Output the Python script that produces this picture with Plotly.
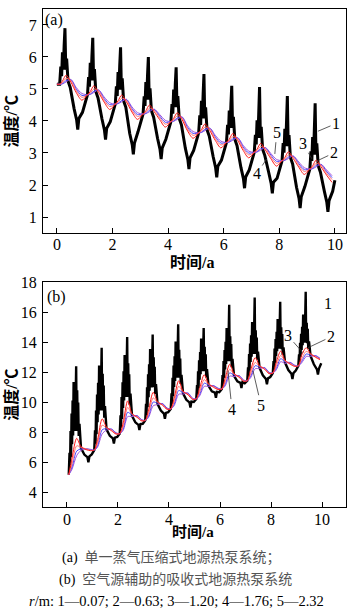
import plotly.graph_objects as go

W, H = 350, 610
YEARS = list(range(10))

# ---------------- panel (a) data ----------------
PH_A_SMOOTH = [0.10, 0.20, 0.33, 0.50, 0.70, 0.90]
PH_A_BLACK = [0.10, 0.14, 0.17, 0.20, 0.23, 0.26, 0.29, 0.32, 0.35, 0.40, 0.48, 0.62, 0.71, 0.75, 0.79, 0.92]
A_START = 5.15
A_BLACK_END = 2.15

A_R1 = [
    [5.15, 5.70, 5.40, 6.15, 5.60, 6.35, 6.90, 5.60, 5.95, 5.25, 5.05, 4.38, 4.03, 3.73, 4.08, 4.27],
    [4.82, 5.37, 5.07, 5.82, 5.27, 6.02, 6.60, 5.27, 5.62, 4.92, 4.72, 4.07, 3.72, 3.42, 3.77, 3.98],
    [4.53, 5.08, 4.78, 5.53, 4.98, 5.73, 6.30, 4.98, 5.33, 4.63, 4.43, 3.61, 3.26, 2.96, 3.31, 3.67],
    [4.22, 4.77, 4.47, 5.22, 4.67, 5.42, 6.00, 4.67, 5.02, 4.32, 4.12, 3.46, 3.11, 2.81, 3.16, 3.43],
    [3.98, 4.53, 4.23, 4.98, 4.43, 5.18, 5.68, 4.43, 4.78, 4.08, 3.88, 3.15, 2.80, 2.50, 2.85, 3.08],
    [3.63, 4.18, 3.88, 4.63, 4.08, 4.83, 5.47, 4.08, 4.43, 3.73, 3.53, 2.89, 2.54, 2.24, 2.59, 2.78],
    [3.33, 3.88, 3.58, 4.33, 3.78, 4.53, 5.10, 3.78, 4.13, 3.43, 3.23, 2.55, 2.20, 1.90, 2.25, 2.47],
    [3.02, 3.57, 3.27, 4.02, 3.47, 4.22, 5.06, 3.47, 3.82, 3.12, 2.92, 2.39, 2.04, 1.74, 2.09, 2.21],
    [2.76, 3.31, 3.01, 3.76, 3.21, 3.96, 4.78, 3.21, 3.56, 2.86, 2.66, 1.93, 1.58, 1.28, 1.63, 1.95],
    [2.50, 3.05, 2.75, 3.50, 2.95, 3.70, 4.55, 2.95, 3.30, 2.60, 2.40, 1.81, 1.46, 1.16, 1.51, 1.80],
]
A_R2 = [
    [5.15, 5.25, 5.43, 5.22, 4.88, 4.65],
    [4.82, 4.92, 5.10, 4.89, 4.59, 4.36],
    [4.53, 4.63, 4.81, 4.60, 4.28, 4.05],
    [4.22, 4.32, 4.50, 4.29, 4.04, 3.81],
    [3.98, 4.08, 4.26, 4.05, 3.69, 3.46],
    [3.63, 3.73, 3.91, 3.70, 3.39, 3.16],
    [3.33, 3.43, 3.61, 3.40, 3.08, 2.85],
    [3.02, 3.12, 3.30, 3.09, 2.82, 2.59],
    [2.76, 2.86, 3.04, 2.83, 2.56, 2.33],
    [2.50, 2.60, 2.78, 2.57, 2.31, 2.08],
]
A_R3 = [
    [5.15, 5.20, 5.33, 5.27, 4.94, 4.74],
    [4.82, 4.87, 5.00, 4.94, 4.65, 4.45],
    [4.53, 4.58, 4.71, 4.65, 4.34, 4.14],
    [4.22, 4.27, 4.40, 4.34, 4.10, 3.90],
    [3.98, 4.03, 4.16, 4.10, 3.75, 3.55],
    [3.63, 3.68, 3.81, 3.75, 3.45, 3.25],
    [3.33, 3.38, 3.51, 3.45, 3.14, 2.94],
    [3.02, 3.07, 3.20, 3.14, 2.88, 2.68],
    [2.76, 2.81, 2.94, 2.88, 2.62, 2.42],
    [2.50, 2.55, 2.68, 2.62, 2.37, 2.17],
]
A_R4 = [
    [5.15, 5.17, 5.26, 5.29, 4.99, 4.80],
    [4.82, 4.84, 4.93, 4.96, 4.70, 4.51],
    [4.53, 4.55, 4.64, 4.67, 4.39, 4.20],
    [4.22, 4.24, 4.33, 4.36, 4.15, 3.96],
    [3.98, 4.00, 4.09, 4.12, 3.80, 3.61],
    [3.63, 3.65, 3.74, 3.77, 3.50, 3.31],
    [3.33, 3.35, 3.44, 3.47, 3.19, 3.00],
    [3.02, 3.04, 3.13, 3.16, 2.93, 2.74],
    [2.76, 2.78, 2.87, 2.90, 2.67, 2.48],
    [2.50, 2.52, 2.61, 2.64, 2.42, 2.23],
]
A_R5 = [
    [5.15, 5.16, 5.22, 5.30, 5.04, 4.86],
    [4.82, 4.83, 4.89, 4.97, 4.75, 4.57],
    [4.53, 4.54, 4.60, 4.68, 4.44, 4.26],
    [4.22, 4.23, 4.29, 4.37, 4.20, 4.02],
    [3.98, 3.99, 4.05, 4.13, 3.85, 3.67],
    [3.63, 3.64, 3.70, 3.78, 3.55, 3.37],
    [3.33, 3.34, 3.40, 3.48, 3.24, 3.06],
    [3.02, 3.03, 3.09, 3.17, 2.98, 2.80],
    [2.76, 2.77, 2.83, 2.91, 2.72, 2.54],
    [2.50, 2.51, 2.57, 2.65, 2.47, 2.29],
]

# ---------------- panel (b) data ----------------
PH_B_SMOOTH = [0.07, 0.20, 0.38, 0.55, 0.75, 0.92]
PH_B_BLACK = [0.07, 0.10, 0.12, 0.14, 0.16, 0.18, 0.20, 0.22, 0.24, 0.26, 0.28, 0.30, 0.32, 0.34,
              0.36, 0.38, 0.40, 0.42, 0.44, 0.46, 0.49, 0.55, 0.68, 0.80, 0.84, 0.88, 0.97]

B_R1 = [
    [5.17, 6.63, 5.64, 8.09, 6.34, 9.25, 7.21, 10.13, 7.79, 11.35, 8.09, 11.00, 8.09, 11.10,
     12.40, 8.09, 10.80, 8.37, 9.99, 7.76, 8.57, 6.95, 6.52, 6.35, 6.00, 6.40, 6.53],
    [6.82, 8.14, 7.24, 9.46, 7.88, 10.52, 8.67, 11.31, 9.20, 12.45, 9.46, 12.10, 9.46, 12.20,
     13.64, 9.46, 11.90, 9.57, 11.13, 8.98, 9.76, 8.20, 7.77, 7.60, 7.25, 7.65, 7.69],
    [7.92, 9.14, 8.31, 10.36, 8.90, 11.34, 9.63, 12.07, 10.12, 13.15, 10.36, 12.80, 10.36, 12.90,
     14.35, 10.36, 12.60, 10.40, 11.88, 9.84, 10.58, 9.10, 8.67, 8.50, 8.15, 8.55, 8.57],
    [8.80, 9.90, 9.15, 11.00, 9.68, 11.88, 10.34, 12.54, 10.78, 13.55, 11.00, 13.20, 11.00, 13.30,
     14.52, 11.00, 13.00, 11.06, 12.38, 10.56, 11.22, 9.90, 9.45, 9.25, 8.90, 9.30, 9.34],
    [9.57, 10.60, 9.90, 11.64, 10.40, 12.46, 11.02, 13.08, 11.43, 14.05, 11.64, 13.70, 11.64, 13.80,
     15.20, 11.64, 13.50, 11.69, 12.93, 11.22, 11.84, 10.60, 10.17, 10.00, 9.65, 10.05, 10.03],
    [10.23, 11.15, 10.52, 12.07, 10.96, 12.80, 11.51, 13.35, 11.88, 14.25, 12.07, 13.90, 12.07, 14.00,
     14.96, 12.07, 13.70, 12.08, 13.20, 11.66, 12.22, 11.10, 10.74, 10.65, 10.30, 10.70, 10.68],
    [10.89, 11.82, 11.19, 12.75, 11.63, 13.49, 12.19, 14.04, 12.56, 14.95, 12.75, 14.60, 12.75, 14.70,
     16.50, 12.75, 14.40, 12.76, 13.89, 12.34, 12.90, 11.77, 11.40, 11.30, 10.95, 11.35, 11.27],
    [11.44, 12.33, 11.72, 13.22, 12.15, 13.93, 12.69, 14.47, 13.04, 15.35, 13.22, 15.00, 13.22, 15.10,
     16.99, 13.22, 14.80, 13.25, 14.33, 12.84, 13.38, 12.30, 11.80, 11.55, 11.20, 11.60, 11.69],
    [11.95, 12.76, 12.21, 13.58, 12.60, 14.23, 13.09, 14.71, 13.41, 15.55, 13.58, 15.20, 13.58, 15.30,
     16.70, 13.58, 15.00, 13.54, 14.56, 13.16, 13.67, 12.65, 12.15, 11.90, 11.55, 11.95, 12.12],
    [12.43, 13.20, 12.68, 13.97, 13.04, 14.58, 13.50, 15.04, 13.81, 15.85, 13.97, 15.50, 13.97, 15.60,
     17.38, 13.97, 15.30, 13.94, 14.90, 13.58, 14.06, 13.10, 12.54, 12.20, 11.85, 12.25, 12.60],
]
B_R2 = [
    [5.17, 6.30, 7.60, 7.05, 6.85, 6.78],
    [6.82, 7.52, 8.90, 8.35, 8.10, 7.89],
    [7.92, 8.62, 10.10, 9.25, 9.00, 8.77],
    [8.80, 9.50, 10.67, 10.05, 9.80, 9.54],
    [9.57, 10.27, 11.44, 10.75, 10.50, 10.20],
    [10.23, 10.93, 11.84, 11.25, 11.00, 10.86],
    [10.89, 11.59, 12.54, 11.92, 11.67, 11.41],
    [11.44, 12.14, 12.98, 12.45, 12.20, 11.92],
    [11.95, 12.65, 13.42, 12.80, 12.55, 12.40],
    [12.43, 13.13, 13.64, 13.25, 13.00, 12.85],
]
B_R3 = [
    [5.17, 5.90, 7.10, 7.00, 6.90, 6.81],
    [6.82, 7.27, 8.48, 8.30, 8.15, 7.92],
    [7.92, 8.37, 9.66, 9.20, 9.05, 8.80],
    [8.80, 9.25, 10.30, 10.00, 9.85, 9.57],
    [9.57, 10.02, 11.07, 10.70, 10.55, 10.23],
    [10.23, 10.68, 11.52, 11.20, 11.05, 10.89],
    [10.89, 11.34, 12.21, 11.87, 11.72, 11.44],
    [11.44, 11.89, 12.67, 12.40, 12.25, 11.95],
    [11.95, 12.40, 13.13, 12.75, 12.60, 12.43],
    [12.43, 12.88, 13.40, 13.20, 13.05, 12.88],
]
B_R4 = [
    [5.17, 5.70, 6.75, 6.90, 6.90, 6.84],
    [6.82, 7.12, 8.17, 8.25, 8.20, 7.95],
    [7.92, 8.22, 9.34, 9.15, 9.10, 8.83],
    [8.80, 9.10, 10.02, 9.95, 9.90, 9.60],
    [9.57, 9.87, 10.79, 10.65, 10.60, 10.26],
    [10.23, 10.53, 11.28, 11.15, 11.10, 10.92],
    [10.89, 11.19, 11.96, 11.82, 11.77, 11.47],
    [11.44, 11.74, 12.44, 12.35, 12.30, 11.98],
    [11.95, 12.25, 12.91, 12.70, 12.65, 12.46],
    [12.43, 12.73, 13.22, 13.15, 13.10, 12.91],
]
B_R5 = [
    [5.17, 5.55, 6.45, 6.80, 6.90, 6.87],
    [6.82, 7.02, 7.90, 8.15, 8.22, 7.98],
    [7.92, 8.12, 9.05, 9.05, 9.12, 8.86],
    [8.80, 9.00, 9.77, 9.85, 9.92, 9.63],
    [9.57, 9.77, 10.54, 10.55, 10.62, 10.29],
    [10.23, 10.43, 11.07, 11.05, 11.12, 10.95],
    [10.89, 11.09, 11.75, 11.72, 11.79, 11.50],
    [11.44, 11.64, 12.24, 12.25, 12.32, 12.01],
    [11.95, 12.15, 12.71, 12.60, 12.67, 12.49],
    [12.43, 12.63, 13.06, 13.05, 13.12, 12.94],
]

A_XTICKS = [0, 2, 4, 6, 8, 10]
A_YTICKS = [1, 2, 3, 4, 5, 6, 7]
B_XTICKS = [0, 2, 4, 6, 8, 10]
B_YTICKS = [4, 6, 8, 10, 12, 14, 16, 18]

# labels: (text, label x, label y, curve x, curve y)
A_LABELS = [("1", 10.04, 3.92, 9.39, 3.68), ("2", 9.96, 3.00, 9.35, 2.75),
            ("3", 8.85, 3.31, 9.17, 2.82), ("5", 7.91, 3.65, 7.84, 2.97),
            ("4", 7.19, 2.35, 7.55, 2.82)]
B_LABELS = [("2", 10.35, 14.37, 9.45, 13.64), ("3", 8.67, 14.43, 9.25, 13.31),
            ("4", 6.47, 9.55, 6.31, 12.12), ("5", 7.61, 9.81, 7.29, 12.12)]
B_LABEL1 = ("1", 10.24, 16.6)

COLORS = {"1": "#000000", "2": "#ff1a1a", "3": "#ff7575", "4": "#4646ff", "5": "#a050d8"}


def flat(rows):
    out = []
    for r in rows:
        out.extend(r)
    return out


def grid(phases):
    return [n + p for n in YEARS for p in phases]


fig = go.Figure()

# panel (a)
ta_b = [0.0] + grid(PH_A_BLACK) + [10.0]
ya_b = [A_START] + flat(A_R1) + [A_BLACK_END]
fig.add_trace(go.Scatter(x=ta_b, y=ya_b, mode="lines", line=dict(color="black", width=3.0),
                         xaxis="x", yaxis="y"))
ta_s = [0.0] + grid(PH_A_SMOOTH)
for key, rows in [("5", A_R5), ("4", A_R4), ("3", A_R3), ("2", A_R2)]:
    fig.add_trace(go.Scatter(x=ta_s, y=[A_START] + flat(rows), mode="lines",
                             line=dict(color=COLORS[key], width=1, shape="spline", smoothing=0.8),
                             xaxis="x", yaxis="y"))

# panel (b)
tb_b = grid(PH_B_BLACK)
fig.add_trace(go.Scatter(x=tb_b, y=flat(B_R1), mode="lines", line=dict(color="black", width=2.4),
                         xaxis="x2", yaxis="y2"))
tb_s = grid(PH_B_SMOOTH)
for key, rows in [("5", B_R5), ("4", B_R4), ("3", B_R3), ("2", B_R2)]:
    fig.add_trace(go.Scatter(x=tb_s, y=flat(rows), mode="lines",
                             line=dict(color=COLORS[key], width=1, shape="spline", smoothing=0.8),
                             xaxis="x2", yaxis="y2"))

SERIF = "Liberation Serif, Noto Sans CJK SC"
tickfont = dict(family="Liberation Serif", size=16, color="black")
axcommon = dict(showline=True, linecolor="black", linewidth=1.3, mirror=True, ticks="inside",
                ticklen=5, tickwidth=1.2, tickcolor="black", showgrid=False, zeroline=False,
                tickfont=tickfont, fixedrange=True)

px = lambda v: v / W
py = lambda v: 1 - v / H

fig.update_layout(
    width=W, height=H, margin=dict(l=0, r=0, t=0, b=0),
    paper_bgcolor="white", plot_bgcolor="white", showlegend=False,
    xaxis=dict(domain=[px(43), px(346)], range=[-0.5, 10.4], tickvals=A_XTICKS, anchor="y",
               ticklabelstandoff=-3, **axcommon),
    yaxis=dict(domain=[py(228), py(1)], range=[0.5, 7.5], tickvals=A_YTICKS, anchor="x",
               ticklabelstandoff=2, **axcommon),
    xaxis2=dict(domain=[px(43), px(346)], range=[-0.94, 10.94], tickvals=B_XTICKS, anchor="y2",
                ticklabelstandoff=-3, **axcommon),
    yaxis2=dict(domain=[py(506), py(278)], range=[3, 18], tickvals=B_YTICKS, anchor="x2",
                ticklabelstandoff=2, **axcommon),
)

ann = []
labfont = dict(family="Liberation Serif", size=16, color="black")
for t, lx, ly, cx, cy in A_LABELS:
    ann.append(dict(x=cx, y=cy, ax=lx, ay=ly, xref="x", yref="y", axref="x", ayref="y",
                    text=t, showarrow=True, arrowhead=0, arrowwidth=0.8, arrowcolor="#333",
                    standoff=0, font=labfont))
for t, lx, ly, cx, cy in B_LABELS:
    ann.append(dict(x=cx, y=cy, ax=lx, ay=ly, xref="x2", yref="y2", axref="x2", ayref="y2",
                    text=t, showarrow=True, arrowhead=0, arrowwidth=0.8, arrowcolor="#333",
                    standoff=0, font=labfont))
ann.append(dict(x=B_LABEL1[1], y=B_LABEL1[2], xref="x2", yref="y2", text=B_LABEL1[0],
                showarrow=False, font=labfont))


def ptext(text, x, y, size=14, angle=0, color="black"):
    ann.append(dict(x=px(x), y=py(y), xref="paper", yref="paper", text=text, showarrow=False,
                    xanchor="center", yanchor="middle", textangle=angle,
                    font=dict(family=SERIF, size=size, color=color)))


ptext("(a)", 54, 12, 16)
ptext("(b)", 56, 293, 16)
ptext("<b>时间/a</b>", 192, 258, 16)
ptext("<b>时间/a</b>", 193, 531, 15)
ptext("<b>温度/℃</b>", 11, 115, 16, -90)
ptext("<b>温度/℃</b>", 11, 392, 16, -90)
ptext('(a)  <span style="color:#555">单一蒸气压缩式地源热泵系统；</span>', 171, 557, 14)
ptext('(b)  <span style="color:#555">空气源辅助的吸收式地源热泵系统</span>', 175, 580, 14)
ptext("<i>r</i>/m: 1—0.07; 2—0.63; 3—1.20; 4—1.76; 5—2.32", 176, 601, 14.5)

fig.update_layout(annotations=ann)
fig.write_html("out.html")
